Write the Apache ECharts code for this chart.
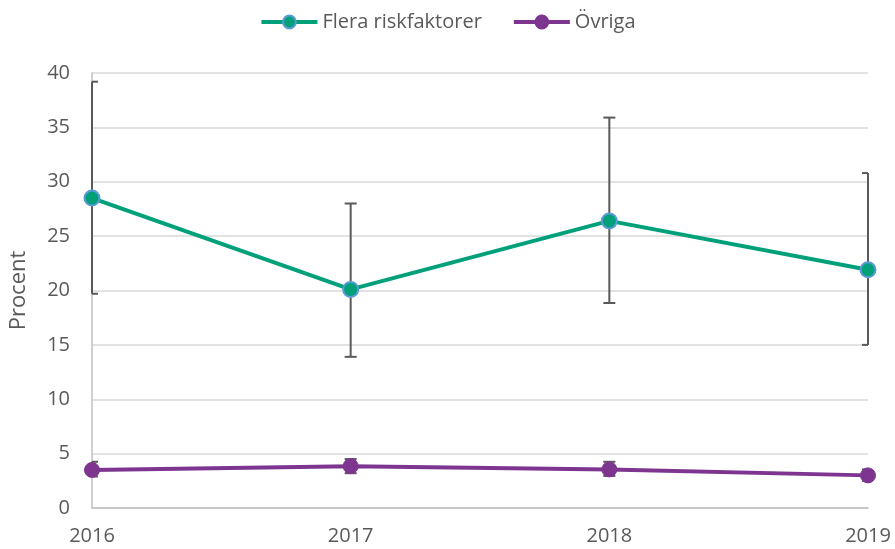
<!DOCTYPE html>
<html>
<head>
<meta charset="utf-8">
<script src="https://cdn.jsdelivr.net/npm/echarts@6/dist/echarts.min.js"></script>
<style>
  html, body { margin: 0; padding: 0; background: #fff; }
  #chart { width: 895px; height: 549px; }
</style>
</head>
<body>
<div id="chart"></div>
<script>
var years = ['2016', '2017', '2018', '2019'];
var yTicks = [0, 5, 10, 15, 20, 25, 30, 35, 40];

// Flera riskfaktorer, med konfidensintervall
var flera = [28.5, 20.1, 26.4, 21.9];
var fleraLow = [19.7, 13.9, 18.85, 15.0];
var fleraHigh = [39.2, 28.0, 35.9, 30.8];

// Övriga
var ovriga = [3.5, 3.85, 3.55, 3.0];
var ovrigaLow = [2.9, 3.2, 2.95, 2.5];
var ovrigaHigh = [4.25, 4.5, 4.25, 3.55];

var textColor = '#595959';
var font = '"Open Sans", "Noto Sans", sans-serif';

function errData(low, high) {
  var res = [];
  for (var i = 0; i < years.length; i++) {
    res.push([i, low[i], high[i]]);
  }
  return res;
}

// felstaplar ritas med custom-serie, ändarna kapas vid plotytans kant
function renderErr(params, api) {
  var x = api.value(0);
  var lo = api.coord([x, api.value(1)]);
  var hi = api.coord([x, api.value(2)]);
  var cs = params.coordSys;
  var half = 6;
  var left = Math.max(lo[0] - half, cs.x);
  var right = Math.min(lo[0] + half, cs.x + cs.width);
  var style = { stroke: textColor, lineWidth: 2 };
  return {
    type: 'group',
    children: [
      { type: 'line', shape: { x1: lo[0], y1: lo[1], x2: hi[0], y2: hi[1] }, style: style },
      { type: 'line', shape: { x1: left, y1: hi[1], x2: right, y2: hi[1] }, style: style },
      { type: 'line', shape: { x1: left, y1: lo[1], x2: right, y2: lo[1] }, style: style }
    ]
  };
}

var chart = echarts.init(document.getElementById('chart'));
chart.setOption({
  animation: false,
  textStyle: { fontFamily: font },
  legend: {
    top: 7,
    left: 'center',
    itemWidth: 56,
    itemHeight: 16,
    itemGap: 30,
    lineStyle: { width: 4 },
    textStyle: { color: textColor, fontSize: 20, fontFamily: font },
    data: ['Flera riskfaktorer', 'Övriga']
  },
  grid: { left: 92, right: 27, top: 73, bottom: 41 },
  xAxis: {
    type: 'category',
    data: years,
    boundaryGap: false,
    axisLine: { lineStyle: { color: '#bfbfbf', width: 1.5 } },
    axisTick: { show: false },
    axisLabel: { color: textColor, fontSize: 20, margin: 18, fontFamily: font },
    splitLine: { show: false }
  },
  yAxis: {
    type: 'value',
    min: yTicks[0],
    max: yTicks[yTicks.length - 1],
    interval: 5,
    name: 'Procent',
    nameLocation: 'middle',
    nameGap: 62,
    nameTextStyle: { color: textColor, fontSize: 22, fontFamily: font },
    axisLine: { show: true, lineStyle: { color: '#bfbfbf', width: 1.5 } },
    axisTick: { show: false },
    axisLabel: { color: textColor, fontSize: 20, margin: 22, fontFamily: font },
    splitLine: { lineStyle: { color: '#d9d9d9', width: 1.5 } }
  },
  series: [
    {
      type: 'custom',
      name: 'fel1',
      renderItem: renderErr,
      data: errData(fleraLow, fleraHigh),
      z: 1,
      silent: true
    },
    {
      type: 'custom',
      name: 'fel2',
      renderItem: renderErr,
      data: errData(ovrigaLow, ovrigaHigh),
      z: 1,
      silent: true
    },
    {
      name: 'Flera riskfaktorer',
      type: 'line',
      data: flera,
      z: 3,
      symbol: 'circle',
      symbolSize: 15,
      lineStyle: { color: '#00A07A', width: 4 },
      itemStyle: { color: '#00A07A', borderColor: '#5B9BD5', borderWidth: 2 }
    },
    {
      name: 'Övriga',
      type: 'line',
      data: ovriga,
      z: 3,
      symbol: 'circle',
      symbolSize: 15,
      lineStyle: { color: '#7D3590', width: 4 },
      itemStyle: { color: '#7D3590', borderColor: '#7D3590', borderWidth: 1 }
    }
  ]
});
</script>
</body>
</html>
